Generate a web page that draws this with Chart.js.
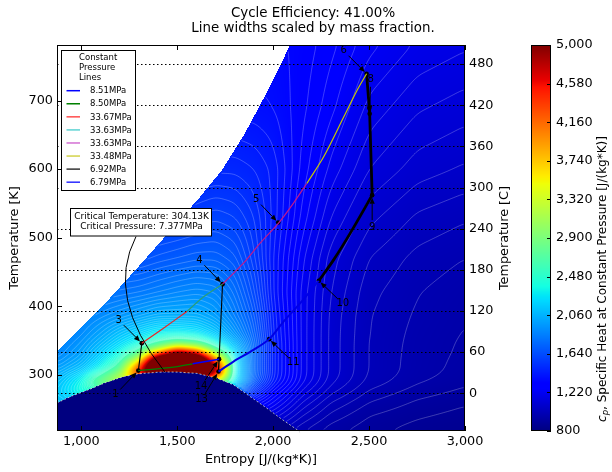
<!DOCTYPE html>
<html>
<head>
<meta charset="utf-8">
<script src="https://cdn.jsdelivr.net/npm/chart.js@4.4.1/dist/chart.umd.min.js"></script>
<style>
  html, body { margin: 0; padding: 0; background: #fff; }
</style>
</head>
<body>
<canvas id="chart" width="612" height="472"></canvas>
<script>
const FONT = 'DejaVu Sans';

// axes
const sRange = [873, 3000];
const tRange = [218, 781];
const cpRange = [800, 5000];
const xTicks = [1000, 1500, 2000, 2500, 3000];
const kTicks = [300, 400, 500, 600, 700];
const cTicks = [0, 60, 120, 180, 240, 300, 360, 420, 480];
const cpTicks = [800, 1220, 1640, 2060, 2480, 2900, 3320, 3740, 4160, 4580, 5000];

// saturation dome
const domeS = [873, 950, 1045, 1130, 1221, 1300, 1395, 1435, 1500, 1604, 1706, 1793, 1880, 1967, 2037, 2126, 2140];
const domeT = [259, 269, 279, 289, 297.4, 301.5, 303.6, 304.13, 303.9, 302, 295, 285.3, 268.2, 251.3, 236.7, 219.6, 216];

// upper pressure limit of the property table
const edgeS = [873, 1045, 1150, 1306, 1463, 1619, 1734, 1854, 1974, 2089, 2100];
const edgeT = [333.4, 381.6, 412.2, 460.3, 509.9, 559.5, 598.9, 652.9, 715.6, 781.3, 790];

const critS = 1435, critT = 304.13, critP = 7.377;

// cp table, rows follow cpT, columns follow cpS
const cpS = [873, 1000, 1100, 1200, 1300, 1400, 1500, 1600, 1700, 1800, 1900, 2000, 2150, 2300, 2500, 2750, 3000];
const cpT = [218, 240, 260, 275, 290, 300, 306, 315, 325, 335, 345, 360, 385, 420, 470, 530, 600, 690, 781];
const cpTable = [
  [2000, 2000, 2000, 2000, 2000, 2000, 2000, 1500, 1300, 1200, 1100, 1050,  980,  930,  900,  875,  860],
  [2050, 2050, 2050, 2050, 2050, 2050, 2050, 1600, 1400, 1300, 1200, 1150, 1040,  970,  920,  895,  878],
  [2100, 2150, 2150, 2150, 2150, 2150, 2150, 1800, 1600, 1450, 1350, 1250, 1100, 1010,  950,  915,  895],
  [2150, 2400, 2500, 2500, 2500, 2500, 2500, 2500, 2200, 1800, 1500, 1320, 1150, 1050,  975,  935,  912],
  [2100, 2350, 2900, 3200, 3200, 3200, 3200, 3200, 3200, 2300, 1700, 1420, 1200, 1080, 1000,  955,  928],
  [2050, 2250, 2600, 3200, 4500, 6000, 6000, 6000, 4500, 2300, 1750, 1440, 1210, 1090, 1005,  962,  935],
  [2000, 2150, 2400, 2800, 4500, 6500, 6500, 6500, 5000, 2300, 1750, 1440, 1210, 1090, 1008,  965,  938],
  [1950, 2080, 2300, 2650, 4000, 6500, 6500, 6500, 4800, 2300, 1750, 1440, 1210, 1090, 1008,  965,  940],
  [1900, 2020, 2200, 2450, 3100, 5500, 6500, 6000, 3800, 2250, 1750, 1440, 1210, 1090, 1008,  966,  942],
  [1870, 1980, 2150, 2330, 2650, 3400, 4600, 4000, 2800, 2200, 1750, 1440, 1210, 1090, 1008,  967,  944],
  [1850, 1950, 2080, 2230, 2380, 2650, 2850, 2750, 2400, 2100, 1750, 1440, 1210, 1090, 1008,  968,  945],
  [1820, 1900, 2000, 2120, 2220, 2320, 2330, 2280, 2150, 1950, 1720, 1430, 1210, 1090, 1010,  970,  948],
  [1800, 1850, 1900, 1950, 2000, 2050, 2050, 2050, 1980, 1850, 1680, 1420, 1210, 1092, 1012,  975,  952],
  [1780, 1780, 1780, 1800, 1820, 1850, 1880, 1900, 1880, 1780, 1620, 1400, 1210, 1100, 1020,  982,  960],
  [1650, 1650, 1650, 1650, 1650, 1680, 1700, 1720, 1720, 1680, 1560, 1400, 1230, 1115, 1040, 1000,  980],
  [1550, 1550, 1550, 1550, 1550, 1550, 1560, 1580, 1600, 1580, 1520, 1420, 1270, 1160, 1080, 1035, 1015],
  [1450, 1450, 1450, 1450, 1450, 1450, 1450, 1470, 1480, 1480, 1460, 1420, 1300, 1210, 1130, 1085, 1065],
  [1380, 1380, 1380, 1380, 1380, 1380, 1380, 1380, 1380, 1380, 1380, 1370, 1320, 1260, 1180, 1135, 1115],
  [1350, 1350, 1350, 1350, 1350, 1350, 1350, 1350, 1350, 1350, 1350, 1350, 1330, 1290, 1230, 1185, 1165]
];
const cpLevelStep = 30;
const cpLevelTop = 2600;

// constant pressure legs of the cycle
const pressLabels = ['8.51MPa', '8.50MPa', '33.67MPa', '33.63MPa', '33.63MPa', '33.48MPa', '6.92MPa', '6.79MPa'];
const pressS = [
  [1718, 1580],
  [1580, 1480, 1297],
  [1315, 1428, 1550],
  [1550, 1639, 1736],
  [1736, 1845, 1932, 2028, 2106, 2175],
  [2175, 2264, 2369, 2439, 2487],
  [2516, 2402, 2315, 2238],
  [2238, 2141, 2054, 1979, 1897, 1793, 1715]
];
const pressT = [
  [322.8, 316],
  [316, 311.1, 306.1],
  [346.1, 368, 392.2],
  [392.2, 414.1, 432.2],
  [432.2, 462.8, 492, 521.2, 550.4, 579],
  [579, 618.4, 676.7, 715.7, 739],
  [562, 506.6, 467.6, 437.2],
  [437.2, 404.5, 377.6, 352, 336.3, 319.3, 304.7]
];

// compression and expansion legs
const procS = [[1297, 1315], [1715, 1718], [1718, 1736], [2487, 2501, 2503, 2516]];
const procT = [[306.1, 346.1], [304.7, 322.8], [322.8, 432.2], [739, 689, 680.7, 562]];

// state points
const stateNum = ['1', '3', '4', '5', '6', '7', '8', '9', '10', '11', '13', '14'];
const stateS = [1297, 1315, 1736, 2026, 2487, 2501, 2503, 2516, 2238, 1979, 1715, 1718];
const stateT = [306.1, 346.1, 432.2, 522, 739, 689, 680.7, 562, 437.2, 352, 304.7, 322.8];

// ---- styling ----
const pressColors = ['#0000ff', '#008000', '#ee2222', '#2a9d77', '#c0188c', '#c8c800', '#000000', '#0000e6'];
const keyColors = ['#0000ff', '#008000', '#ff4d4d', '#5fd3d3', '#d36fd3', '#d3d34a', '#333333', '#2a2aff'];
const pressWidths = [1.5, 1.3, 1.2, 1.2, 1.2, 1.2, 2.8, 2.0];
const procWidths = [1.1, 1.3, 1.1, 2.8];
const labelShift = {
  '1': [-23, 24], '3': [-23, -23], '4': [-23, -24], '5': [-22, -23], '6': [-23, -23],
  '8': [1, -34], '9': [0, 32], '10': [24, 23], '11': [24, 23], '13': [-17, 28], '14': [-18, 27]
};

function jet(v) {
  v = Math.min(1, Math.max(0, v));
  let r, g, b;
  if (v < 0.35) r = 0; else if (v < 0.66) r = (v - 0.35) / 0.31; else if (v < 0.89) r = 1; else r = 1 - 0.5 * (v - 0.89) / 0.11;
  if (v < 0.125) g = 0; else if (v < 0.375) g = (v - 0.125) / 0.25; else if (v < 0.64) g = 1; else if (v < 0.91) g = 1 - (v - 0.64) / 0.27; else g = 0;
  if (v < 0.11) b = 0.5 + 0.5 * v / 0.11; else if (v < 0.34) b = 1; else if (v < 0.65) b = 1 - (v - 0.34) / 0.31; else b = 0;
  return [Math.round(r * 255), Math.round(g * 255), Math.round(b * 255)];
}

function curveAt(xs, ys, x) {
  let i = 0;
  while (i < xs.length - 2 && x > xs[i + 1]) i++;
  return ys[i] + (ys[i + 1] - ys[i]) * (x - xs[i]) / (xs[i + 1] - xs[i]);
}
const domeTop = s => (s > domeS[domeS.length - 1] ? -Infinity : curveAt(domeS, domeT, s));
const edgeTop = s => (s > edgeS[edgeS.length - 1] ? Infinity : curveAt(edgeS, edgeT, s));

function cpAt(s, T) {
  let i = 0; while (i < cpS.length - 2 && s > cpS[i + 1]) i++;
  let j = 0; while (j < cpT.length - 2 && T > cpT[j + 1]) j++;
  const fx = Math.min(1, Math.max(0, (s - cpS[i]) / (cpS[i + 1] - cpS[i])));
  const fy = Math.min(1, Math.max(0, (T - cpT[j]) / (cpT[j + 1] - cpT[j])));
  const r0 = cpTable[j], r1 = cpTable[j + 1];
  return (r0[i] * (1 - fx) + r0[i + 1] * fx) * (1 - fy) + (r1[i] * (1 - fx) + r1[i + 1] * fx) * fy;
}

function boxBlur(F, W, H, r) {
  const tmp = new Float32Array(W * H), n = 2 * r + 1;
  for (let j = 0; j < H; j++) {
    for (let i = 0; i < W; i++) {
      let sum = 0;
      for (let k = -r; k <= r; k++) sum += F[j * W + Math.min(W - 1, Math.max(0, i + k))];
      tmp[j * W + i] = sum / n;
    }
  }
  for (let j = 0; j < H; j++) {
    for (let i = 0; i < W; i++) {
      let sum = 0;
      for (let k = -r; k <= r; k++) sum += tmp[Math.min(H - 1, Math.max(0, j + k)) * W + i];
      F[j * W + i] = sum / n;
    }
  }
}

// cp map, contour lines, dome outline and Celsius grid
const fieldPlugin = {
  id: 'cpField',
  beforeDatasetsDraw(chart) {
    const { ctx, chartArea: a, scales: { x, y, y2 } } = chart;
    const L = Math.round(a.left), Tp = Math.round(a.top);
    const W = Math.round(a.right) - L, H = Math.round(a.bottom) - Tp;
    const sv = new Float64Array(W), tv = new Float64Array(H);
    for (let i = 0; i < W; i++) sv[i] = x.getValueForPixel(L + i + 0.5);
    for (let j = 0; j < H; j++) tv[j] = y.getValueForPixel(Tp + j + 0.5);

    const F = new Float32Array(W * H), M = new Uint8Array(W * H);
    for (let j = 0; j < H; j++) {
      for (let i = 0; i < W; i++) {
        const s = sv[i], T = tv[j];
        F[j * W + i] = cpAt(s, T);
        if (T > edgeTop(s)) M[j * W + i] = 1;
        else if (T < domeTop(s)) M[j * W + i] = 2;
      }
    }
    boxBlur(F, W, H, 4);
    boxBlur(F, W, H, 4);

    const img = ctx.createImageData(W, H);
    const low = jet(0);
    for (let k = 0; k < W * H; k++) {
      if (M[k] === 1) continue;
      const c = M[k] === 2 ? low : jet((F[k] - cpRange[0]) / (cpRange[1] - cpRange[0]));
      img.data[k * 4] = c[0]; img.data[k * 4 + 1] = c[1]; img.data[k * 4 + 2] = c[2]; img.data[k * 4 + 3] = 255;
    }
    ctx.putImageData(img, L, Tp);

    // contour lines of cp (marching squares on a 2px lattice)
    const st = 2;
    const lev0 = cpRange[0] + cpLevelStep;
    ctx.save();
    ctx.beginPath();
    const P = (i, j) => [L + i + 0.5, Tp + j + 0.5];
    for (let j0 = 0; j0 + st < H; j0 += st) {
      const j1 = j0 + st;
      for (let i0 = 0; i0 + st < W; i0 += st) {
        const i1 = i0 + st;
        const k00 = j0 * W + i0, k10 = j0 * W + i1, k11 = j1 * W + i1, k01 = j1 * W + i0;
        if (M[k00] || M[k10] || M[k11] || M[k01]) continue;
        const va = F[k00], vb = F[k10], vc = F[k11], vd = F[k01];
        const mn = Math.min(va, vb, vc, vd), mx = Math.max(va, vb, vc, vd);
        let l = Math.ceil((mn - lev0) / cpLevelStep);
        if (l < 0) l = 0;
        for (let lv = lev0 + l * cpLevelStep; lv <= mx && lv <= cpLevelTop; lv += cpLevelStep) {
          const pts = [];
          const edge = (v1, v2, p1, p2) => {
            if ((v1 < lv) !== (v2 < lv)) {
              const f = (lv - v1) / (v2 - v1);
              pts.push([p1[0] + (p2[0] - p1[0]) * f, p1[1] + (p2[1] - p1[1]) * f]);
            }
          };
          const A = P(i0, j0), B = P(i1, j0), C = P(i1, j1), D = P(i0, j1);
          edge(va, vb, A, B); edge(vb, vc, B, C); edge(vc, vd, C, D); edge(vd, va, D, A);
          for (let q = 0; q + 1 < pts.length; q += 2) {
            ctx.moveTo(pts[q][0], pts[q][1]);
            ctx.lineTo(pts[q + 1][0], pts[q + 1][1]);
          }
        }
      }
    }
    ctx.strokeStyle = 'rgba(255,255,255,0.4)';
    ctx.lineWidth = 0.6;
    ctx.stroke();

    // saturation dome outline
    ctx.beginPath();
    domeS.forEach((s, k) => {
      const px = x.getPixelForValue(s), py = y.getPixelForValue(domeT[k]);
      if (k === 0) ctx.moveTo(px, py); else ctx.lineTo(px, py);
    });
    ctx.setLineDash([2, 2]);
    ctx.strokeStyle = 'rgba(200,200,200,0.85)';
    ctx.lineWidth = 1;
    ctx.stroke();

    // dotted Celsius grid
    ctx.beginPath();
    cTicks.forEach(c => {
      const py = Math.round(y2.getPixelForValue(c)) + 0.5;
      ctx.moveTo(a.left, py);
      ctx.lineTo(a.right, py);
    });
    ctx.setLineDash([1.5, 2.5]);
    ctx.strokeStyle = '#000';
    ctx.lineWidth = 1.1;
    ctx.stroke();
    ctx.restore();
  }
};

function arrowTo(ctx, x1, y1, x2, y2) {
  const ang = Math.atan2(y2 - y1, x2 - x1), c = Math.cos(ang), s = Math.sin(ang);
  const hl = 6, hw = 2.6;
  ctx.beginPath();
  ctx.moveTo(x1, y1);
  ctx.lineTo(x2 - hl * c, y2 - hl * s);
  ctx.stroke();
  ctx.beginPath();
  ctx.moveTo(x2, y2);
  ctx.lineTo(x2 - hl * c - hw * s, y2 - hl * s + hw * c);
  ctx.lineTo(x2 - hl * c + hw * s, y2 - hl * s - hw * c);
  ctx.closePath();
  ctx.fill();
}

function vText(ctx, text, cx, cy, font) {
  ctx.save();
  ctx.translate(cx, cy);
  ctx.rotate(-Math.PI / 2);
  ctx.font = font;
  ctx.textAlign = 'center';
  ctx.textBaseline = 'middle';
  ctx.fillText(text, 0, 0);
  ctx.restore();
}

const overlayPlugin = {
  id: 'overlay',
  afterDatasetsDraw(chart) {
    const { ctx, chartArea: a, scales: { x, y, y2 } } = chart;
    ctx.save();
    ctx.fillStyle = '#000';
    ctx.strokeStyle = '#000';

    // critical point callout
    const cx = x.getPixelForValue(critS), cy = y.getPixelForValue(critT);
    ctx.lineWidth = 1;
    ctx.beginPath();
    ctx.moveTo(136, 236.5);
    ctx.quadraticCurveTo(cx - 60, cy - 75, cx, cy);
    ctx.stroke();
    ctx.fillStyle = '#fff';
    ctx.fillRect(70.5, 208.5, 141, 27.5);
    ctx.strokeRect(70.5, 208.5, 141, 27.5);
    ctx.fillStyle = '#000';
    ctx.font = `9px "${FONT}"`;
    ctx.textAlign = 'center';
    ctx.textBaseline = 'middle';
    ctx.fillText(`Critical Temperature: ${critT.toFixed(2)}K`, 141.5, 216.5);
    ctx.fillText(`Critical Pressure: ${critP.toFixed(3)}MPa`, 141.5, 227);

    // state labels with arrows
    ctx.font = `10px "${FONT}"`;
    ctx.lineWidth = 1;
    stateNum.forEach((n, k) => {
      const sh = labelShift[n];
      if (!sh) return;
      const px = x.getPixelForValue(stateS[k]), py = y.getPixelForValue(stateT[k]);
      const lx = px + sh[0], ly = py + sh[1];
      const d = Math.hypot(sh[0], sh[1]), ux = -sh[0] / d, uy = -sh[1] / d;
      ctx.fillText(n, lx, ly);
      arrowTo(ctx, lx + ux * 7, ly + uy * 7, px - ux * 2.5, py - uy * 2.5);
    });

    // legend
    const lg = { x: 61.5, y: 50.5, w: 74, h: 140 };
    ctx.fillStyle = '#fff';
    ctx.fillRect(lg.x, lg.y, lg.w, lg.h);
    ctx.strokeRect(lg.x, lg.y, lg.w, lg.h);
    ctx.fillStyle = '#000';
    ctx.font = `8.5px "${FONT}"`;
    ctx.textAlign = 'left';
    ['Constant', 'Pressure', 'Lines'].forEach((t, k) => ctx.fillText(t, 79, 57.5 + k * 10));
    chart.data.datasets.filter(d => d.inKey).forEach((d, k) => {
      const ry = 90.7 + k * 13.07;
      ctx.strokeStyle = d.keyColor;
      ctx.lineWidth = 1.5;
      ctx.beginPath();
      ctx.moveTo(66.5, ry);
      ctx.lineTo(80, ry);
      ctx.stroke();
      ctx.fillText(d.label, 90, ry + 0.5);
    });

    // frame and inward ticks
    ctx.strokeStyle = '#000';
    ctx.lineWidth = 1;
    ctx.strokeRect(a.left + 0.5, a.top + 0.5, a.right - a.left - 1, a.bottom - a.top - 1);
    ctx.beginPath();
    xTicks.forEach(v => {
      const px = Math.round(x.getPixelForValue(v)) + 0.5;
      ctx.moveTo(px, a.bottom); ctx.lineTo(px, a.bottom - 5);
      ctx.moveTo(px, a.top); ctx.lineTo(px, a.top + 5);
    });
    kTicks.forEach(v => {
      const py = Math.round(y.getPixelForValue(v)) + 0.5;
      ctx.moveTo(a.left, py); ctx.lineTo(a.left + 5, py);
    });
    cTicks.forEach(v => {
      const py = Math.round(y2.getPixelForValue(v)) + 0.5;
      ctx.moveTo(a.right, py); ctx.lineTo(a.right - 5, py);
    });
    ctx.stroke();
    ctx.restore();
  },
  afterDraw(chart) {
    const { ctx, chartArea: a } = chart;
    ctx.save();
    // colour bar
    const cb = { x: 531, w: 20, top: a.top, bottom: a.bottom };
    const hgt = cb.bottom - cb.top;
    for (let py = cb.top; py < cb.bottom; py++) {
      const c = jet((cb.bottom - py - 0.5) / hgt);
      ctx.fillStyle = `rgb(${c[0]},${c[1]},${c[2]})`;
      ctx.fillRect(cb.x, py, cb.w, 1);
    }
    ctx.strokeStyle = '#000';
    ctx.lineWidth = 1;
    ctx.strokeRect(cb.x + 0.5, cb.top + 0.5, cb.w - 1, hgt - 1);
    ctx.fillStyle = '#000';
    ctx.font = `12.8px "${FONT}"`;
    ctx.textAlign = 'left';
    ctx.textBaseline = 'middle';
    ctx.beginPath();
    cpTicks.forEach(v => {
      const py = cb.bottom - (v - cpRange[0]) / (cpRange[1] - cpRange[0]) * hgt;
      const ry = Math.round(py) + 0.5;
      ctx.moveTo(cb.x + cb.w - 4, ry); ctx.lineTo(cb.x + cb.w, ry);
      ctx.fillText(v.toLocaleString('en-US'), 556, py);
    });
    ctx.stroke();

    // colour bar title: c_p, Specific Heat ...
    ctx.save();
    ctx.translate(603, 279);
    ctx.rotate(-Math.PI / 2);
    const rest = ', Specific Heat at Constant Pressure [J/(kg*K)]';
    const fMain = `12px "${FONT}"`, fIt = `italic 12px "${FONT}"`, fSub = `italic 8.5px "${FONT}"`;
    ctx.font = fIt; const wc = ctx.measureText('c').width;
    ctx.font = fSub; const wp = ctx.measureText('p').width;
    ctx.font = fMain; const wr = ctx.measureText(rest).width;
    let px = -(wc + wp + wr) / 2;
    ctx.textAlign = 'left';
    ctx.font = fIt; ctx.fillText('c', px, 0); px += wc;
    ctx.font = fSub; ctx.fillText('p', px, 3); px += wp;
    ctx.font = fMain; ctx.fillText(rest, px, 0);
    ctx.restore();

    // titles
    ctx.textAlign = 'center';
    ctx.textBaseline = 'middle';
    ctx.font = `13.4px "${FONT}"`;
    ctx.fillText('Cycle Efficiency: 41.00%', 313, 14);
    ctx.fillText('Line widths scaled by mass fraction.', 313, 28.5);
    ctx.font = `12.8px "${FONT}"`;
    ctx.fillText('Entropy [J/(kg*K)]', (a.left + a.right) / 2, 460);
    vText(ctx, 'Temperature [K]', 15, (a.top + a.bottom) / 2, `12.8px "${FONT}"`);
    vText(ctx, 'Temperature [C]', 505, (a.top + a.bottom) / 2, `12.8px "${FONT}"`);
    ctx.restore();
  }
};

const pts = (S, T) => S.map((s, k) => ({ x: s, y: T[k] }));
const datasets = [];
pressLabels.forEach((lab, k) => datasets.push({
  label: lab, inKey: true, keyColor: keyColors[k],
  data: pts(pressS[k], pressT[k]), showLine: true, tension: 0.3,
  borderColor: pressColors[k], borderWidth: pressWidths[k], pointRadius: 0
}));
procS.forEach((S, k) => datasets.push({
  label: 'process', data: pts(S, procT[k]), showLine: true, tension: 0,
  borderColor: '#000', borderWidth: procWidths[k], pointRadius: 0
}));
datasets.push({
  label: 'states', data: pts(stateS, stateT), showLine: false,
  pointRadius: 2.3, pointBackgroundColor: '#000', pointBorderColor: '#000', pointBorderWidth: 0
});

const tickFont = { family: FONT, size: 12.8 };
new Chart(document.getElementById('chart'), {
  type: 'scatter',
  data: { datasets },
  options: {
    responsive: false,
    animation: false,
    devicePixelRatio: 1,
    layout: { padding: { left: 0, right: 87, top: 45, bottom: 0 } },
    plugins: { legend: { display: false }, title: { display: false }, tooltip: { enabled: false } },
    scales: {
      x: {
        type: 'linear', position: 'bottom', min: sRange[0], max: sRange[1],
        afterBuildTicks: s => { s.ticks = xTicks.map(v => ({ value: v })); },
        afterFit: s => { s.height = 41; s.paddingLeft = 0; s.paddingRight = 0; },
        grid: { display: false, drawTicks: false }, border: { display: false },
        ticks: { padding: 3, color: '#000', font: tickFont, maxRotation: 0, autoSkip: false,
                 callback: v => v.toLocaleString('en-US') }
      },
      y: {
        type: 'linear', position: 'left', min: tRange[0], max: tRange[1],
        afterBuildTicks: s => { s.ticks = kTicks.map(v => ({ value: v })); },
        afterFit: s => { s.width = 57; s.paddingTop = 0; s.paddingBottom = 0; },
        grid: { display: false, drawTicks: false }, border: { display: false },
        ticks: { padding: 4, color: '#000', font: tickFont, autoSkip: false }
      },
      y2: {
        type: 'linear', position: 'right', min: tRange[0] - 273.15, max: tRange[1] - 273.15,
        afterBuildTicks: s => { s.ticks = cTicks.map(v => ({ value: v })); },
        afterFit: s => { s.width = 60; s.paddingTop = 0; s.paddingBottom = 0; },
        grid: { display: false, drawTicks: false }, border: { display: false },
        ticks: { padding: 4, color: '#000', font: tickFont, autoSkip: false }
      }
    }
  },
  plugins: [fieldPlugin, overlayPlugin]
});
</script>
</body>
</html>
